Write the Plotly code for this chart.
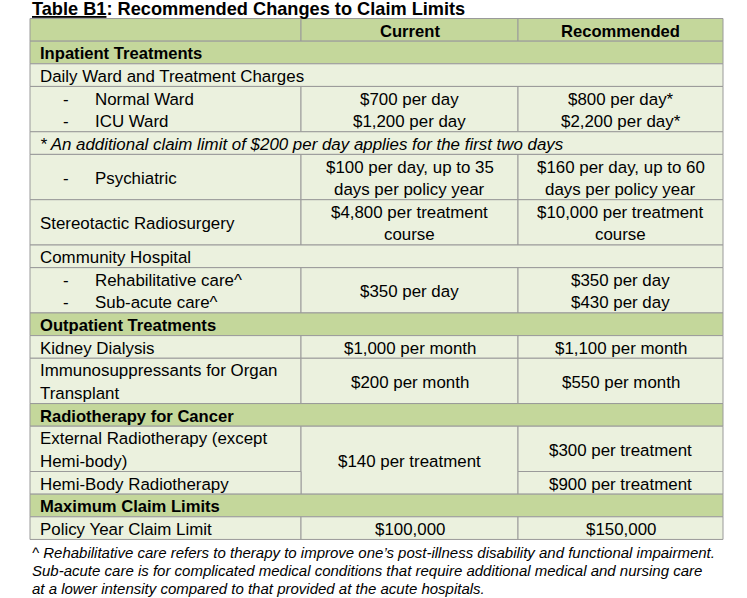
import plotly.graph_objects as go

# ---------------- data ----------------
title_text = "<u>Table B1</u>: Recommended Changes to Claim Limits"
row_lines = [1, 1, 1, 2, 1, 2, 2, 1, 2, 1, 1, 2, 1, 2, 1, 1, 1]
# (row, rowspan, col, colspan, text lines, style)
cells = [
    (0, 1, 0, 1, [""], "hdr"),
    (0, 1, 1, 1, ["Current"], "hdr"),
    (0, 1, 2, 1, ["Recommended"], "hdr"),
    (1, 1, 0, 3, ["Inpatient Treatments"], "sec"),
    (2, 1, 0, 3, ["Daily Ward and Treatment Charges"], "txt"),
    (3, 1, 0, 1, ["- Normal Ward", "- ICU Ward"], "txt"),
    (3, 1, 1, 1, ["$700 per day", "$1,200 per day"], "val"),
    (3, 1, 2, 1, ["$800 per day*", "$2,200 per day*"], "val"),
    (4, 1, 0, 3, ["* An additional claim limit of $200 per day applies for the first two days"], "note"),
    (5, 1, 0, 1, ["- Psychiatric"], "txt"),
    (5, 1, 1, 1, ["$100 per day, up to 35", "days per policy year"], "val"),
    (5, 1, 2, 1, ["$160 per day, up to 60", "days per policy year"], "val"),
    (6, 1, 0, 1, ["Stereotactic Radiosurgery"], "txt"),
    (6, 1, 1, 1, ["$4,800 per treatment", "course"], "val"),
    (6, 1, 2, 1, ["$10,000 per treatment", "course"], "val"),
    (7, 1, 0, 3, ["Community Hospital"], "txt"),
    (8, 1, 0, 1, ["- Rehabilitative care^", "- Sub-acute care^"], "txt"),
    (8, 1, 1, 1, ["$350 per day"], "val"),
    (8, 1, 2, 1, ["$350 per day", "$430 per day"], "val"),
    (9, 1, 0, 3, ["Outpatient Treatments"], "sec"),
    (10, 1, 0, 1, ["Kidney Dialysis"], "txt"),
    (10, 1, 1, 1, ["$1,000 per month"], "val"),
    (10, 1, 2, 1, ["$1,100 per month"], "val"),
    (11, 1, 0, 1, ["Immunosuppressants for Organ", "Transplant"], "txt"),
    (11, 1, 1, 1, ["$200 per month"], "val"),
    (11, 1, 2, 1, ["$550 per month"], "val"),
    (12, 1, 0, 3, ["Radiotherapy for Cancer"], "sec"),
    (13, 1, 0, 1, ["External Radiotherapy (except", "Hemi-body)"], "txt"),
    (13, 2, 1, 1, ["$140 per treatment"], "val"),
    (13, 1, 2, 1, ["$300 per treatment"], "val"),
    (14, 1, 0, 1, ["Hemi-Body Radiotherapy"], "txt"),
    (14, 1, 2, 1, ["$900 per treatment"], "val"),
    (15, 1, 0, 3, ["Maximum Claim Limits"], "sec"),
    (16, 1, 0, 1, ["Policy Year Claim Limit"], "txt"),
    (16, 1, 1, 1, ["$100,000"], "val"),
    (16, 1, 2, 1, ["$150,000"], "val"),
]
footnote_lines = [
    "^ Rehabilitative care refers to therapy to improve one\u2019s post-illness disability and functional impairment.",
    "Sub-acute care is for complicated medical conditions that require additional medical and nursing care",
    "at a lower intensity compared to that provided at the acute hospitals.",
]

# ---------------- layout ----------------
W, H = 747, 598
col_x = [30, 301, 518, 723]
table_top = 18.5
line_h = 22.65
FONT = "Liberation Sans, Arial, sans-serif"
DARK = "#c4d79b"
LIGHT = "#ebf1de"
BORDER = "#9a9a9a"
FS = 16.9
DY = 1.3

row_y = [table_top]
for n in row_lines:
    row_y.append(row_y[-1] + n * line_h)

shapes, annotations = [], []
for (r, rs, c, cs, lines, style) in cells:
    x0, x1 = col_x[c], col_x[c + cs]
    y0, y1 = row_y[r], row_y[r + rs]
    fill = DARK if style in ("hdr", "sec") else LIGHT
    shapes.append(dict(type="rect", xref="x", yref="y", x0=x0, x1=x1, y0=y0, y1=y1,
                       fillcolor=fill, line=dict(color=BORDER, width=1), layer="below"))
    n = len(lines)
    lh = (y1 - y0) / n
    for i, t in enumerate(lines):
        if not t:
            continue
        yc = y0 + (i + 0.5) * lh + DY
        bold = style in ("hdr", "sec")
        italic = style == "note"
        fnt = dict(family=FONT, size=16.6 if bold else FS, color="#000")
        if style in ("val", "hdr") and c > 0:
            txt = f"<b>{t}</b>" if bold else t
            annotations.append(dict(x=(x0 + x1) / 2, y=yc, xref="x", yref="y", text=txt,
                                    showarrow=False, xanchor="center", yanchor="middle", font=fnt))
        else:
            if t.startswith("- "):
                annotations.append(dict(x=66, y=yc, xref="x", yref="y", text="-",
                                        showarrow=False, xanchor="center", yanchor="middle", font=fnt))
                t = t[2:]
                tx = 93
            else:
                tx = 38
            txt = t
            if bold:
                txt = f"<b>{t}</b>"
            if italic:
                txt = f"<i>{t}</i>"
            annotations.append(dict(x=tx, y=yc, xref="x", yref="y", text=txt,
                                    showarrow=False, xanchor="left", yanchor="middle", font=fnt))

# title
annotations.append(dict(x=30, y=9, xref="x", yref="y", text=f"<b>{title_text}</b>",
                        showarrow=False, xanchor="left", yanchor="middle",
                        font=dict(family=FONT, size=18.2, color="#000")))
# footnote
for i, t in enumerate(footnote_lines):
    annotations.append(dict(x=30, y=552 + i * 18, xref="x", yref="y", text=f"<i>{t}</i>",
                            showarrow=False, xanchor="left", yanchor="middle",
                            font=dict(family=FONT, size=15, color="#000")))

fig = go.Figure()
fig.add_trace(go.Scatter(x=[0, W], y=[0, H], mode="markers", marker=dict(opacity=0),
                         hoverinfo="skip", showlegend=False))
fig.update_layout(
    width=W, height=H, margin=dict(l=0, r=0, t=0, b=0),
    paper_bgcolor="white", plot_bgcolor="white",
    xaxis=dict(range=[0, W], visible=False, fixedrange=True),
    yaxis=dict(range=[H, 0], visible=False, fixedrange=True),
    shapes=shapes, annotations=annotations, showlegend=False,
)
fig.write_html("out.html", config={"displayModeBar": False},
               post_script="document.body.style.margin='0';document.body.style.padding='0';"
                           "document.documentElement.style.overflow='hidden';")
